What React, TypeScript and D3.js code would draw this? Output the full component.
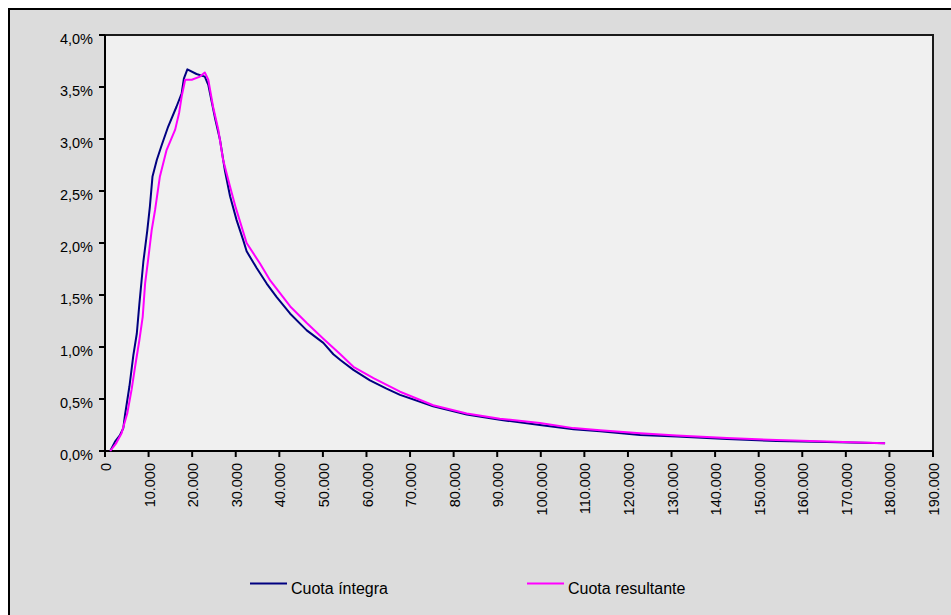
import React from "react";
import * as d3 from "d3";

// Income level (euros) and share of total (%) for each series
const integraIncome = [
  1200, 2300, 3400, 4200, 4600, 5600, 6500, 7300, 7900, 8800, 9700, 10300, 10900, 11900,
  13000, 14500, 16400, 17600, 18100, 18900, 21000, 22900, 23700, 25200, 26400, 27500,
  28700, 30200, 31700, 32500, 34800, 37100, 39400, 42500, 46300, 50100, 52400, 54000,
  57000, 60800, 64600, 67700, 75300, 83000, 90600, 99800, 107500, 113600, 122800, 131200,
  142700, 154100, 165600, 179000,
];
const integraShare = [
  0.0, 0.09, 0.15, 0.22, 0.35, 0.62, 0.92, 1.13, 1.42, 1.82, 2.12, 2.35, 2.64, 2.8,
  2.94, 3.12, 3.31, 3.44, 3.58, 3.67, 3.625, 3.6, 3.52, 3.21, 2.99, 2.7,
  2.45, 2.22, 2.03, 1.92, 1.76, 1.61, 1.48, 1.32, 1.16, 1.04, 0.93, 0.875,
  0.78, 0.68, 0.6, 0.54, 0.43, 0.35, 0.3, 0.25, 0.21, 0.19, 0.155, 0.14,
  0.115, 0.096, 0.087, 0.074,
];

const resultanteIncome = [
  1200, 2500, 3800, 5100, 6100, 6900, 7900, 8650, 9200, 9900, 10700, 11500, 12600, 14100,
  16100, 17000, 17600, 18400, 19900, 21800, 22900, 23700, 24800, 26000, 27100, 28700,
  30000, 32500, 35600, 37900, 42500, 46300, 50100, 54000, 57000, 61600, 67700, 75300,
  83000, 90600, 99800, 107500, 113600, 122800, 131200, 142700, 154100, 165600, 179000,
];
const resultanteShare = [
  0.0, 0.07, 0.17, 0.36, 0.59, 0.81, 1.07, 1.29, 1.61, 1.84, 2.12, 2.32, 2.64, 2.89,
  3.09, 3.25, 3.41, 3.57, 3.57, 3.6, 3.64, 3.57, 3.31, 3.09, 2.8, 2.54,
  2.34, 2.0, 1.8, 1.64, 1.39, 1.23, 1.08, 0.93, 0.81, 0.7, 0.57, 0.44,
  0.36, 0.31, 0.27, 0.22, 0.2, 0.17, 0.15, 0.125, 0.105, 0.092, 0.075,
];

const xTickValues = d3.range(0, 190001, 10000);
const xTickLabels = [
  "0", "10.000", "20.000", "30.000", "40.000", "50.000", "60.000", "70.000", "80.000",
  "90.000", "100.000", "110.000", "120.000", "130.000", "140.000", "150.000", "160.000",
  "170.000", "180.000", "190.000",
];
const yTickValues = [0, 0.5, 1, 1.5, 2, 2.5, 3, 3.5, 4];
const yTickLabels = ["0,0%", "0,5%", "1,0%", "1,5%", "2,0%", "2,5%", "3,0%", "3,5%", "4,0%"];

const seriesNames = ["Cuota íntegra", "Cuota resultante"];
const seriesColors = ["#000080", "#ff00ff"];

const W = 951;
const H = 615;
const plot = { left: 105, top: 35, right: 933, bottom: 451 };
const font = "'Liberation Sans', Arial, sans-serif";

export default function App() {
  const x = d3.scaleLinear().domain([0, 190000]).range([plot.left, plot.right]);
  const y = d3.scaleLinear().domain([0, 4]).range([plot.bottom, plot.top]);

  const line = d3
    .line<[number, number]>()
    .x((d) => x(d[0]))
    .y((d) => y(d[1]));

  const series = [
    d3.zip(integraIncome, integraShare) as [number, number][],
    d3.zip(resultanteIncome, resultanteShare) as [number, number][],
  ];

  const legendX = [250, 527];
  const legendY = 583.5;

  return (
    <svg
      width={W}
      height={H}
      style={{ position: "absolute", left: 0, top: 0, background: "#ffffff" }}
      fontFamily={font}
    >
      {/* chart area */}
      <rect x={9} y={9} width={W + 20} height={H + 20} fill="#dcdcdc" stroke="#000" strokeWidth={2} />

      {/* plot area */}
      <rect
        x={plot.left}
        y={plot.top}
        width={plot.right - plot.left}
        height={plot.bottom - plot.top}
        fill="#f0f0f0"
        stroke="#1a1a1a"
        strokeWidth={2}
      />

      {/* y axis */}
      <line x1={plot.left} x2={plot.left} y1={plot.top} y2={plot.bottom} stroke="#000" strokeWidth={2} />
      {yTickValues.map((v, i) => (
        <g key={`y${i}`}>
          <line x1={plot.left - 6} x2={plot.left} y1={y(v)} y2={y(v)} stroke="#000" strokeWidth={2} />
          <text
            x={93}
            y={y(v) + 4}
            dy="0.35em"
            textAnchor="end"
            fontSize={14.5}
            fill="#000"
          >
            {yTickLabels[i]}
          </text>
        </g>
      ))}

      {/* x axis */}
      <line x1={plot.left} x2={plot.right} y1={plot.bottom} y2={plot.bottom} stroke="#000" strokeWidth={2} />
      {xTickValues.map((v, i) => (
        <g key={`x${i}`}>
          <line x1={x(v)} x2={x(v)} y1={plot.bottom} y2={plot.bottom + 6} stroke="#000" strokeWidth={2} />
          <text
            transform={`translate(${x(v) + 1},${plot.bottom + 12}) rotate(-90)`}
            dy="0.35em"
            textAnchor="end"
            fontSize={14.5}
            fill="#000"
          >
            {xTickLabels[i]}
          </text>
        </g>
      ))}

      {/* series */}
      {series.map((s, i) => (
        <path
          key={`s${i}`}
          d={line(s) ?? ""}
          fill="none"
          stroke={seriesColors[i]}
          strokeWidth={2}
          strokeLinejoin="round"
        />
      ))}

      {/* legend */}
      {seriesNames.map((name, i) => (
        <g key={`l${i}`}>
          <line
            x1={legendX[i]}
            x2={legendX[i] + 37}
            y1={legendY}
            y2={legendY}
            stroke={seriesColors[i]}
            strokeWidth={2}
          />
          <text x={legendX[i] + 41} y={594} fontSize={16} fill="#000">
            {name}
          </text>
        </g>
      ))}
    </svg>
  );
}
